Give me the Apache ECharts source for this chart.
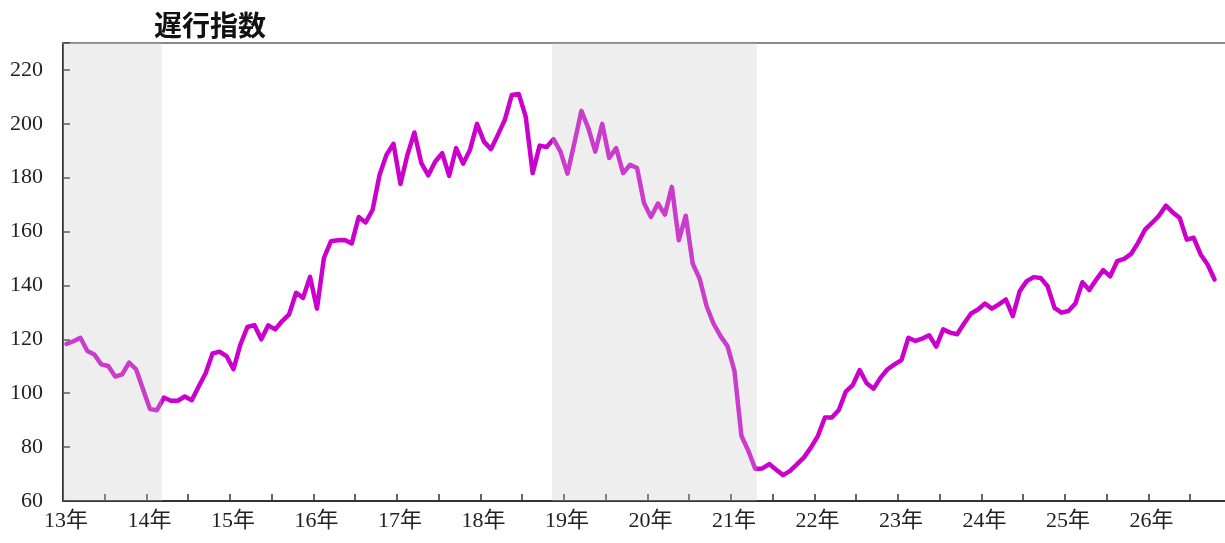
<!DOCTYPE html>
<html>
<head>
<meta charset="utf-8">
<script src="https://cdn.jsdelivr.net/npm/echarts@6/dist/echarts.min.js"></script>
<style>html,body{margin:0;padding:0;background:#fff;}#c{width:1225px;height:543px;}</style>
</head>
<body>
<div id="c"></div>
<script>
// Monthly values from 13年1月 (index 0) to 26年10月 (index 165)
var values = [
118.3,119.3,120.6,115.7,114.4,110.7,110.1,106.2,107.0,111.4,108.9,101.5,
94.1,93.7,98.4,97.2,97.2,98.8,97.4,102.5,107.4,114.8,115.4,113.8,
108.9,118.1,124.6,125.3,120.0,125.2,123.7,126.8,129.3,137.3,135.4,143.2,
131.4,150.2,156.4,156.8,156.9,155.6,165.4,163.4,168.1,181.1,188.5,192.6,
177.7,188.5,196.8,185.4,180.9,186.0,189.1,180.7,191.0,185.2,190.4,200.0,
193.4,190.6,195.9,201.5,210.7,211.1,202.7,181.7,191.9,191.4,194.3,189.7,
181.5,193.0,204.8,198.4,189.7,200.0,187.3,191.0,181.7,184.8,183.6,170.6,
165.4,170.4,166.3,176.6,156.8,165.9,148.1,142.5,132.3,125.8,121.2,117.5,
108.3,84.2,78.6,71.9,72.1,73.7,71.6,69.6,71.2,73.7,76.2,79.9,
84.2,91.0,91.0,93.8,100.6,103.0,108.6,103.7,101.7,105.8,108.9,110.7,
112.3,120.6,119.4,120.3,121.5,117.3,123.7,122.5,121.9,125.9,129.6,131.1,
133.3,131.4,133.0,134.8,128.6,137.9,141.6,143.1,142.8,139.7,131.7,129.9,
130.5,133.3,141.2,138.3,142.2,145.7,143.4,149.0,149.9,151.7,155.8,160.7,
163.2,165.9,169.6,167.1,165.0,157.0,157.7,151.5,147.8,142.2
];
var startYear = 13;           // x axis origin = 13年1月
var shadeStarts = [0, 70.3];  // months from origin
var shadeEnds = [14.2, 99.7];
var yTicks = [60, 80, 100, 120, 140, 160, 180, 200, 220];
var titleText = '遅行指数';

var Y_MIN = 60, Y_MAX = 230, X_MAX = 167;
var seriesData = values.map(function (v, i) { return [i + 0.5, v]; });
var shadeData = shadeStarts.map(function (s, i) { return [s, shadeEnds[i]]; });

var chart = echarts.init(document.getElementById('c'), null, { renderer: 'canvas' });
var labelFont = '"Liberation Serif", "Noto Sans CJK JP", serif';
chart.setOption({
  animation: false,
  backgroundColor: '#ffffff',
  title: {
    text: titleText,
    left: 149,
    top: 6,
    textStyle: { fontFamily: '"Noto Sans CJK JP"', fontWeight: 'bold', fontSize: 28, color: '#111' }
  },
  grid: { left: 63, right: 0, top: 43, bottom: 42 },
  xAxis: [{
    type: 'value',
    min: 0,
    max: X_MAX,
    interval: 6,
    axisLine: { show: true, lineStyle: { color: '#333', width: 2 } },
    axisTick: { show: true, inside: true, length: 7, lineStyle: { color: '#333', width: 1.5 } },
    axisLabel: {
      margin: 9,
      padding: [0, 0, 0, 6],
      fontFamily: labelFont,
      fontSize: 22,
      color: '#222',
      showMaxLabel: false,
      formatter: function (v) { return (v % 12 === 0 && v < X_MAX) ? (startYear + v / 12) + '年' : ''; }
    },
    splitLine: { show: false }
  }, {
    type: 'value',
    position: 'top',
    min: 0,
    max: X_MAX,
    axisLine: { show: true, onZero: false, lineStyle: { color: '#888', width: 2 } },
    axisTick: { show: false },
    axisLabel: { show: false },
    splitLine: { show: false }
  }],
  yAxis: {
    type: 'value',
    min: Y_MIN,
    max: Y_MAX,
    interval: 20,
    axisLine: { show: true, lineStyle: { color: '#333', width: 2 } },
    axisTick: { show: true, inside: true, length: 7, lineStyle: { color: '#333', width: 1.5 } },
    axisLabel: {
      margin: 20,
      fontFamily: labelFont,
      fontSize: 22,
      color: '#222',
      formatter: function (v) { return yTicks.indexOf(v) >= 0 ? String(v) : ''; }
    },
    splitLine: { show: false }
  },
  series: [{
    type: 'line',
    data: seriesData,
    symbol: 'none',
    z: 2,
    lineStyle: { color: '#cc00cc', width: 4.5, cap: 'round', join: 'round' }
  }, {
    type: 'custom',
    data: shadeData,
    silent: true,
    z: 10,
    renderItem: function (params, api) {
      var p0 = api.coord([api.value(0), Y_MAX]);
      var p1 = api.coord([api.value(1), Y_MIN]);
      return {
        type: 'rect',
        shape: { x: p0[0], y: p0[1], width: p1[0] - p0[0], height: p1[1] - p0[1] },
        style: { fill: 'rgba(200,200,200,0.3)' }
      };
    }
  }]
});
</script>
</body>
</html>
